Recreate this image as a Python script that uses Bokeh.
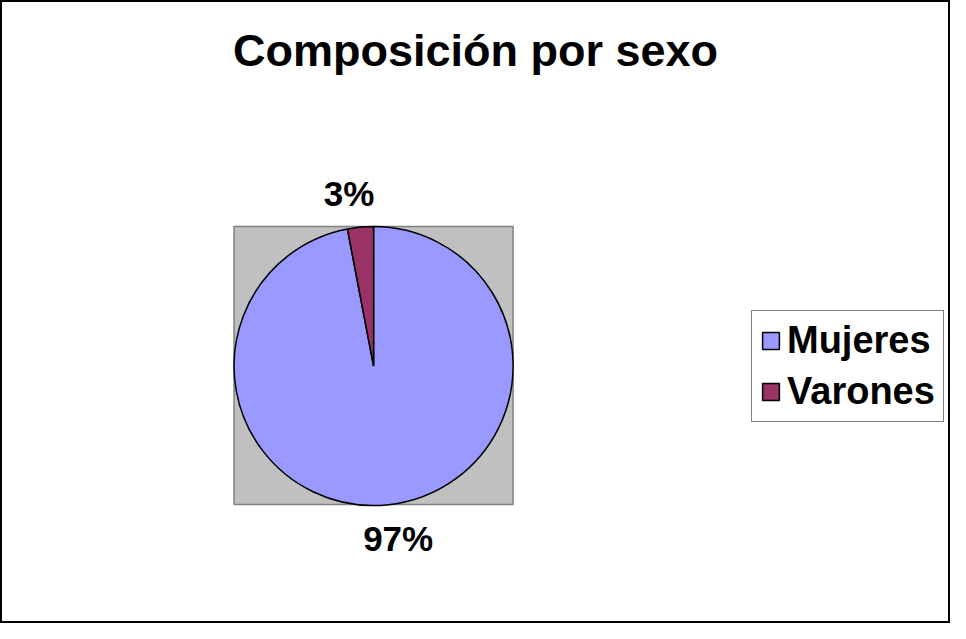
import math
from bokeh.plotting import figure
from bokeh.models import Range1d, Legend, LegendItem, ColumnDataSource
from bokeh.core.properties import value
from bokeh.embed import file_html
from bokeh.resources import INLINE

# ---- data ----
title_text = "Composición por sexo"
categories = ["Mujeres", "Varones"]
values = [97, 3]
colors = ["#9999FF", "#993366"]

# ---- layout (reference pixel space) ----
W, H = 950, 623
CX, CY, R = 380, 375, 141
FONT = value("Liberation Sans")

total = float(sum(values))
starts, ends, lx, ly, labels = [], [], [], [], []
a = math.pi / 2
for v in values:
    e = a - v / total * 2 * math.pi
    starts.append(a)
    ends.append(e)
    mid = (a + e) / 2
    lr = 176
    lx.append(CX + 1.5 * lr * math.cos(mid))
    ly.append(-(CY - lr * math.sin(mid)))
    labels.append(f"{round(v / total * 100)}%")
    a = e

src = ColumnDataSource(dict(start=starts, end=ends, color=colors, cat=categories))

p = figure(width=W, height=H, output_backend="svg", toolbar_location=None,
           x_range=Range1d(3, 963), y_range=Range1d(-637, -3),
           min_border=0, min_border_left=0, min_border_right=0,
           min_border_top=0, min_border_bottom=0)
p.axis.visible = False
p.grid.visible = False
p.background_fill_color = "white"
p.border_fill_color = "white"
p.outline_line_color = "black"
p.outline_line_width = 3

# plot area
p.quad(left=239, right=521, top=-233, bottom=-516,
       fill_color="#C0C0C0", line_color="#808080", line_width=1.5)

r = p.wedge(x=CX, y=-CY, radius=R, start_angle="start", end_angle="end",
            direction="clock", fill_color="color", line_color="black",
            line_width=1.5, source=src)

# data labels
p.text(x=lx, y=ly, text=labels, text_font=FONT, text_font_style="bold",
       text_font_size="35px", text_align="center", text_baseline="middle",
       text_color="black")

# title
p.text(x=[483], y=[-54], text=[title_text], text_font=FONT,
       text_font_style="bold", text_font_size="45px", text_align="center",
       text_baseline="middle", text_color="black")

legend = Legend(items=[LegendItem(label=c, renderers=[r], index=i)
                       for i, c in enumerate(categories)],
                location=(751, 201))
legend.label_text_font = "Liberation Sans"
legend.label_text_font_style = "bold"
legend.label_text_font_size = "38px"
legend.label_text_color = "black"
legend.glyph_width = 21
legend.glyph_height = 21
legend.label_standoff = 6
legend.padding = 8
legend.spacing = 8
legend.margin = 0
legend.border_line_color = "black"
legend.border_line_width = 1.5
legend.background_fill_color = "white"
legend.background_fill_alpha = 1
p.add_layout(legend, "center")

open("out.html", "w").write(file_html(p, INLINE))
